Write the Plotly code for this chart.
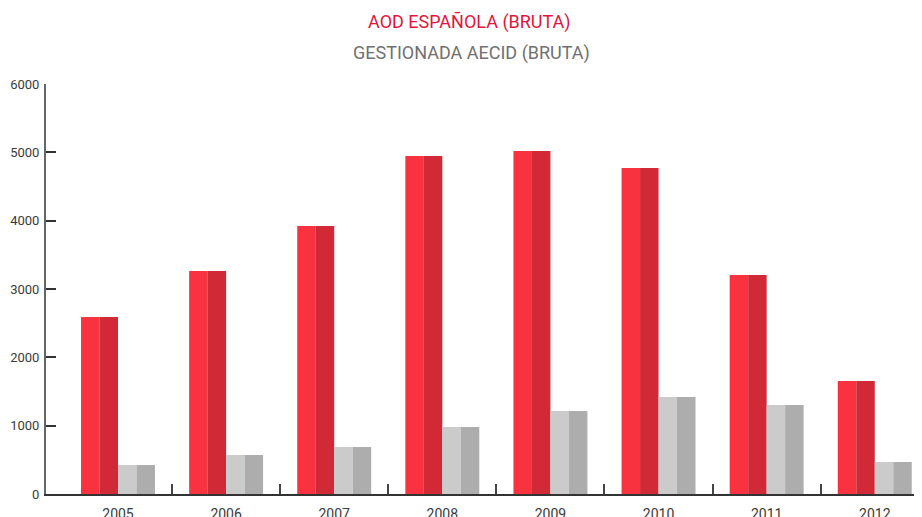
import plotly.graph_objects as go

years = ["2005", "2006", "2007", "2008", "2009", "2010", "2011", "2012"]
aod_espanola = [2590, 3264, 3922, 4947, 5020, 4771, 3205, 1654]
gestionada_aecid = [424, 571, 688, 980, 1215, 1420, 1302, 468]
y_ticks = [0, 1000, 2000, 3000, 4000, 5000, 6000]

FONT = "Roboto"
idx = list(range(len(years)))
half = 0.171

fig = go.Figure()
series = [
    (aod_espanola, -2 * half, "#F8333F", "AOD ESPAÑOLA (BRUTA)"),
    (aod_espanola, -half, "#D22936", "AOD ESPAÑOLA (BRUTA)"),
    (gestionada_aecid, 0, "#CBCBCB", "GESTIONADA AECID (BRUTA)"),
    (gestionada_aecid, half, "#ADADAD", "GESTIONADA AECID (BRUTA)"),
]
for vals, off, col, name in series:
    fig.add_trace(go.Bar(
        x=idx, y=vals, offset=off, width=half,
        marker=dict(color=col, line=dict(width=0)),
        name=name, showlegend=False,
        hovertemplate="%{y}<extra>" + name + "</extra>",
    ))

fig.update_layout(
    width=922, height=517,
    barmode="overlay",
    plot_bgcolor="white", paper_bgcolor="white",
    margin=dict(l=38, r=8, t=76, b=31, autoexpand=False),
    font=dict(family=FONT, size=16, color="#444444"),
    annotations=[
        dict(text="AOD ESPAÑOLA (BRUTA)", xref="paper", yref="paper",
             x=0.484, y=1.151, xanchor="center", yanchor="middle", showarrow=False,
             font=dict(family=FONT, size=18, color="#E0163C")),
        dict(text="GESTIONADA AECID (BRUTA)", xref="paper", yref="paper",
             x=0.486, y=1.0756, xanchor="center", yanchor="middle", showarrow=False,
             font=dict(family=FONT, size=18, color="#707070")),
    ],
    xaxis=dict(
        range=[-0.666, 7.437],
        tickvals=idx, ticktext=years,
        ticks="", showgrid=False, zeroline=False, automargin=False,
        showline=True, linecolor="#333333", linewidth=2,
        tickfont=dict(family=FONT, size=14, color="#3a3a3a"),
        ticklabelstandoff=6,
        minor=dict(tickvals=[i + 0.5 for i in idx[:-1]], ticks="inside",
                   ticklen=10, tickwidth=2, tickcolor="#444444", showgrid=False),
        fixedrange=True,
    ),
    yaxis=dict(
        range=[0, 6000],
        tickvals=y_ticks, automargin=False,
        ticks="inside", ticklen=10, tickwidth=2, tickcolor="#333333",
        showgrid=False, zeroline=False,
        showline=True, linecolor="#666666", linewidth=2,
        tickfont=dict(family=FONT, size=13, color="#3a3a3a"),
        ticklabelstandoff=2,
        fixedrange=True,
    ),
)

fig.write_html("out.html")
